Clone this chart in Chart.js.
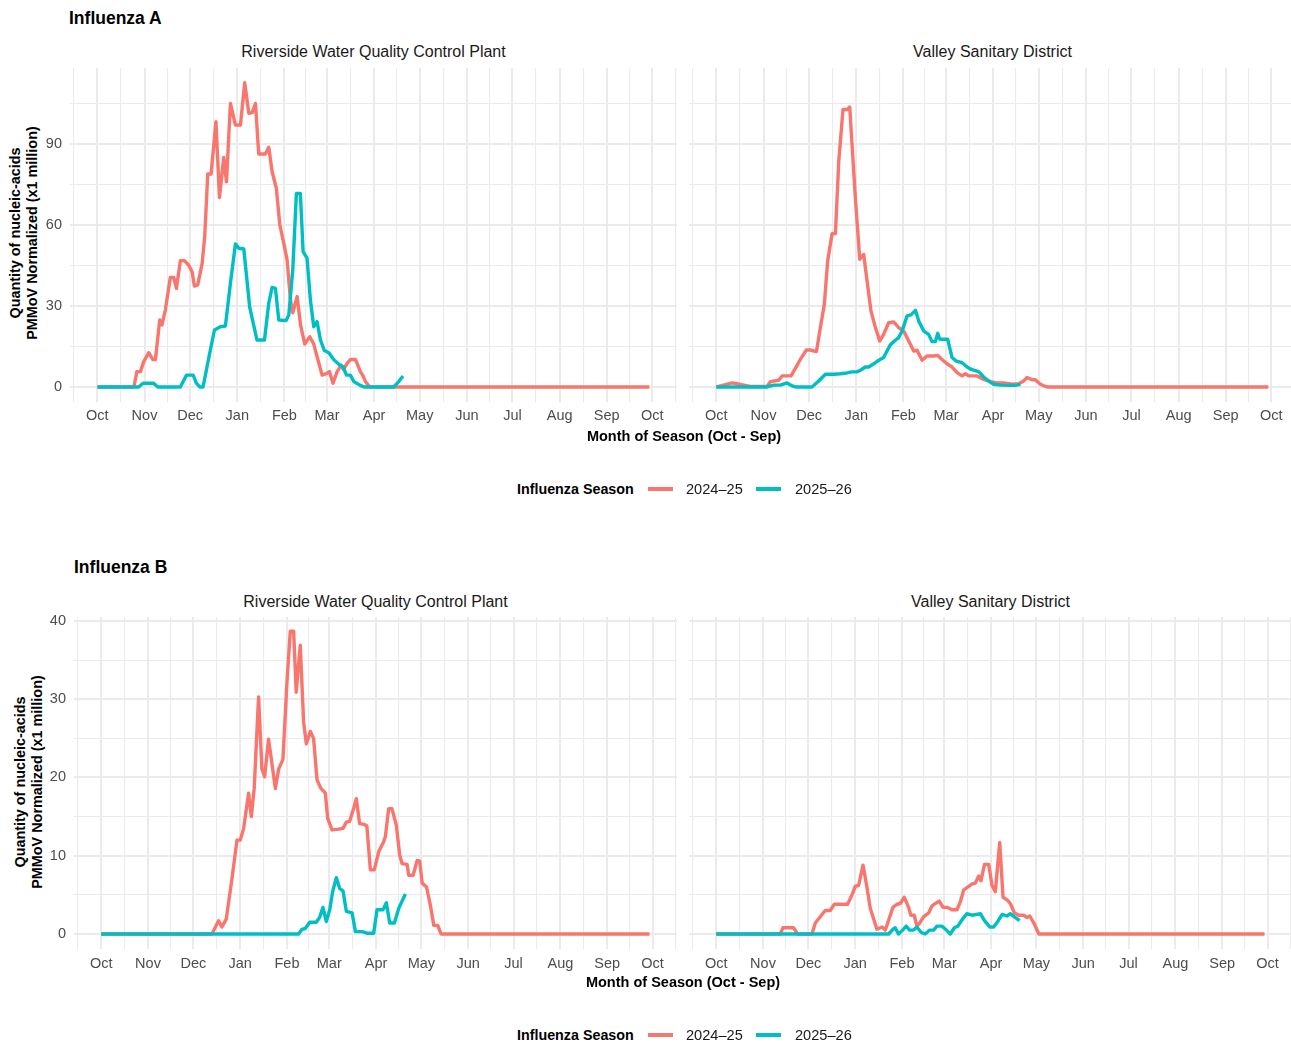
<!DOCTYPE html>
<html>
<head>
<meta charset="utf-8">
<title>Influenza A / B wastewater</title>
<script src="https://cdn.jsdelivr.net/npm/chart.js@4.4.1/dist/chart.umd.min.js"></script>
<style>
    html, body { margin: 0; padding: 0; overflow: hidden; background: #fff; }
    body { position: relative; width: 1291px; height: 1044px; font-family: "Liberation Sans", Arial, sans-serif; }
    .abs { position: absolute; white-space: nowrap; }
    .panel { position: absolute; }
    .title { font-weight: bold; font-size: 17.5px; color: #000; transform: translateY(-50%); }
    .strip { font-size: 16px; color: #1a1a1a; transform: translate(-50%, -50%); }
    .ytitle { font-weight: bold; font-size: 14.4px; line-height: 17px; text-align: center; color: #000; transform: translate(-50%, -50%) rotate(-90deg); }
    .xtitle { font-weight: bold; font-size: 14.5px; color: #000; transform: translate(-50%, -50%); }
    .leg-title { font-weight: bold; font-size: 14.3px; color: #000; transform: translateY(-50%); }
    .leg-label { font-size: 14.6px; color: #1a1a1a; transform: translateY(-50%); }
    .leg-key { height: 4px; transform: translateY(-50%); }
</style>
</head>
<body>

<script>
// Month axis (days since Oct 1) and labels
const monthDays = [0, 31, 61, 92, 123, 151, 182, 212, 243, 273, 304, 335, 365];
const monthLabels = ['Oct', 'Nov', 'Dec', 'Jan', 'Feb', 'Mar', 'Apr', 'May', 'Jun', 'Jul', 'Aug', 'Sep', 'Oct'];

// Y tick labels for each row
const yTicksA = [0, 30, 60, 90];
const yTicksB = [0, 10, 20, 30, 40];

const seasons = ['2024–25', '2025–26'];
const sites = ['Riverside Water Quality Control Plant', 'Valley Sanitary District'];

// Influenza A - Riverside  [day, value]
const fluARiverside2425 = [[0,0],[24,0],[26,5.7],[28.3,5.7],[30.5,9.4],[33.8,12.7],[36.4,10.2],[38.2,10.2],[41,24.8],[42.5,23],[44.7,28.5],[48,40.6],[50.2,40.6],[52,36.5],[54.6,46.8],[57.2,46.8],[60,45.2],[62.3,42.7],[63.8,37.4],[66,37.8],[68.9,45.8],[70.6,55.7],[72.6,78.9],[74.8,78.9],[78,98.3],[80.3,70.2],[83.1,85],[84.9,76],[87.5,105],[90.8,97],[94.1,97],[96.9,112.7],[99.6,101.4],[101.8,101.6],[104,105],[106.1,86.3],[110.5,86.3],[112.7,88.8],[114.9,79.8],[117.7,73.6],[120,60],[122.6,53.2],[124.8,47],[127,32.2],[128.5,27.5],[131.4,33.5],[133.6,23],[136.4,15.9],[139.7,18.6],[142.3,15.9],[144.5,11.2],[147.8,4.4],[151.1,5.1],[152.6,5.7],[155,1.4],[157.7,5.7],[160.3,8.1],[161.8,6.5],[164,8.5],[166.4,10.2],[169.7,10.2],[173,5.7],[174.8,4],[176.3,2],[179.2,0],[363,0]];
const fluARiverside2526 = [[0,0],[27.2,0],[30,1.4],[37,1.4],[39.7,0],[54.6,0],[58.6,4.4],[63,4.4],[65.1,1.4],[67.3,0],[69.5,0],[73.2,10.6],[77,21.1],[80.9,22.3],[84.2,22.6],[87.5,38.4],[90.8,53],[93,51.4],[96.3,51.1],[100.2,29.5],[105,17.4],[109.9,17.4],[112.7,31],[114.9,36.9],[117.1,36.5],[119.3,24.8],[124.1,24.6],[125.9,26.7],[128.5,43.3],[130.9,71.7],[133.5,71.7],[135.3,50.1],[137.9,47.7],[140.1,32.2],[142.3,22.3],[144.5,24.2],[146.7,17.4],[149.3,13.5],[152.2,12.7],[155.4,10.2],[159.4,8.1],[161.6,7.5],[163.8,4.4],[166.4,4.4],[168.6,2],[172.6,0.7],[175.2,0],[194.9,0],[198.2,2],[201,4.1]];

// Influenza A - Valley
const fluAValley2425 = [[0,0],[4.8,0.7],[10.3,1.5],[13.6,1.2],[18,0.7],[22.4,0.2],[33.3,0.2],[35.5,2],[41,2.5],[43.2,4.1],[49.1,4.1],[52,6.9],[55.2,10.2],[59.2,13.7],[61.8,13.7],[65.8,13.1],[68.4,22],[71,30.6],[73.2,46.7],[76.1,56.8],[78.3,56.8],[80.5,83.7],[83.3,102.8],[85.9,102.8],[87.7,103.7],[89.9,83.7],[91.4,70.1],[94.3,47.3],[96.9,49.1],[99.1,39.3],[101.7,28.1],[104.6,22],[107.4,17],[110,19.5],[113.3,23.8],[116.6,24.1],[119.9,22],[123.2,20.7],[126.5,17],[129.8,13.3],[132,13.6],[135.3,9.9],[138.5,11.5],[142.9,11.5],[145.6,11.7],[148.4,10.2],[151.7,8.6],[155,7.4],[158.3,5.3],[161.6,4.1],[163.8,4.9],[165.9,4.1],[171.4,4.1],[175.8,2.8],[180.2,2],[184.6,1.5],[189,1.5],[194.4,1],[198.8,1.2],[202.1,2.2],[204.3,3.5],[207.6,2.7],[209.8,2.7],[213.1,1],[216.4,0.2],[218,0],[363,0]];
const fluAValley2526 = [[0,0],[33,0],[37.7,0.7],[42.1,0.7],[46.5,1.5],[49.8,0.4],[52,0],[62.9,0],[67.3,2.2],[71.7,4.7],[77.2,4.7],[81.5,4.9],[85.9,5.2],[89.2,5.6],[92.5,5.6],[94.7,6.2],[98,7.4],[100.2,7.4],[103.5,8.6],[106.8,9.9],[110,10.9],[112.2,13.3],[114.4,15.6],[117.7,17.3],[119.9,18.3],[122.1,20.7],[125.4,26.3],[128,26.7],[130.9,28.4],[133.1,24.4],[136.4,20.7],[139.6,19.5],[141.8,16.8],[144,16.8],[145.6,19.9],[146.9,17.7],[152.1,17.7],[155,10.9],[157.8,9.6],[161.6,9],[164.9,7.4],[168.1,6.4],[172.5,5.7],[175.8,3.7],[179.1,2.2],[182.4,1],[186.8,0.7],[192.3,0.6],[196.6,0.6],[199.9,1]];

// Influenza B - Riverside
const fluBRiverside2425 = [[0,0],[73.3,0],[77.7,1.7],[79.9,0.9],[82.8,1.9],[86.6,7.1],[89.9,12],[92.1,12],[94.3,13.5],[97.6,18],[99.4,15],[101.3,18.6],[104.2,30.3],[106.4,21.1],[108.2,20.1],[110.8,24.9],[115.3,18.6],[117.5,21.1],[120.3,22.3],[123,32.2],[125.2,38.7],[127.4,38.7],[129.1,30.9],[131.8,36.9],[134,27.1],[135.8,24.3],[138.5,25.9],[140.6,25],[142.9,19.7],[145.5,18.6],[148.4,18],[149.9,14.8],[152.8,13.3],[157.2,13.4],[160.1,13.5],[162.3,14.3],[164.5,14.4],[167.2,16.1],[168.9,17.3],[171.1,14.1],[174.2,14],[175.9,13.8],[178.2,8.2],[180.8,8.2],[183.7,10.5],[187,11.8],[188.1,12.4],[190.3,16],[192.5,16],[195.4,13.9],[197.6,10.1],[199.2,9],[202.5,8.9],[203.6,7.5],[206.5,7.5],[209.2,9.4],[210.9,9.3],[212.5,6.5],[215.4,6],[217.9,3.7],[220.2,1.1],[222.8,1.1],[225,0],[363,0]];
const fluBRiverside2526 = [[0,0],[130.7,0],[132.9,0.6],[135.1,0.7],[138,1.5],[142.4,1.5],[144.6,2.1],[146.8,3.4],[149,1.6],[151.3,3.1],[153.2,5.4],[155.7,7.2],[157.9,5.8],[160.1,5.5],[162.3,2.9],[166.1,2.7],[168.3,0.3],[172.7,0.3],[176,0.1],[180.4,0.1],[182.6,3.1],[186.6,3.1],[188.8,4],[191,1.4],[194.1,1.4],[197,3.3],[201.4,5.1]];

// Influenza B - Valley
const fluBValley2425 = [[0,0],[42.4,0],[44.2,0.8],[51.2,0.8],[53.9,0],[63.4,0],[65.6,1.4],[68.9,2.2],[72.2,3],[75.5,3],[78.2,3.8],[87,3.8],[89.9,5],[92.1,6.1],[94.3,6.2],[97.2,8.8],[99.8,6],[102,3.3],[106.4,0.6],[109.8,0.9],[112,0.5],[114.2,1.8],[117,3.4],[119.7,3.8],[121.9,3.9],[124.5,4.7],[127.4,3.4],[128.9,2.4],[131.1,2.4],[132.9,1],[134.7,1.4],[137.3,2.2],[140.7,2.7],[142.9,3.6],[145.1,3.9],[147.7,4.2],[150.2,3.4],[153.2,3.4],[156.1,3.1],[159.4,3.1],[161.6,4.1],[163.8,5.6],[167.2,6.1],[169.4,6.4],[171.6,6.5],[173.8,7.4],[175.3,6.8],[177.6,8.9],[180.4,8.9],[182.6,6.2],[184.8,5.4],[187.7,11.7],[189.9,4.7],[193,4.3],[194.7,3.9],[197.4,2.7],[200.3,2.4],[203.6,2.4],[205.8,2.1],[207.6,2.3],[210.3,1.4],[213.6,0],[363,0]];
const fluBValley2526 = [[0,0],[114.2,0],[117,0.6],[118.5,0.8],[120.7,0],[122.9,0.4],[125.8,1],[128,0.5],[130.6,0.5],[132.9,0.9],[135.7,0.2],[138.4,0],[141.3,0.5],[143.9,0.5],[146.2,1],[149.5,1],[152.4,0.5],[155,0],[157.7,0.8],[159.9,1],[162.7,1.8],[166,2.6],[169.4,2.4],[174.9,2.6],[177.6,1.7],[181.1,0.9],[183.7,0.9],[186.4,1.6],[189.3,2.5],[192.5,2.3],[194.7,2.6],[197.4,2.2],[200.9,1.7]];

const RED = '#F8766D';
const TEAL = '#00BFC4';
const GRID = '#EBEBEB';
const FONT = '"Liberation Sans", Arial, sans-serif';

// x minor breaks sit halfway between months (plus one either side)
const xMinor = [-15.5].concat(monthDays.slice(1).map((d, i) => (d + monthDays[i]) / 2), [380.5]);
const xTicks = monthDays.concat(xMinor).sort((a, b) => a - b);

function yTickList(major, max) {
    const step = major[1] - major[0];
    const minor = major.map(v => v + step / 2).filter(v => v < max);
    return major.concat(minor).sort((a, b) => a - b);
}

function addText(cls, text, left, top) {
    const div = document.createElement('div');
    div.className = 'abs ' + cls;
    div.style.left = left + 'px';
    div.style.top = top + 'px';
    div.innerHTML = text;
    document.body.appendChild(div);
    return div;
}

function addLegend(y) {
    addText('leg-title', 'Influenza Season', 517, y);
    const k1 = addText('leg-key', '', 648, y); k1.style.width = '25px'; k1.style.background = RED;
    addText('leg-label', seasons[0], 686, y);
    const k2 = addText('leg-key', '', 756, y); k2.style.width = '25px'; k2.style.background = TEAL;
    addText('leg-label', seasons[1], 795, y);
}

// box = chart area in page px, pad = room for axis labels around it
function makePanel(box, padL, yMajor, yMin, yMax, red, teal, xPad) {
    const padT = 24, padR = 6, padB = 40;
    const holder = document.createElement('div');
    holder.className = 'panel';
    holder.style.left = (box.left - padL) + 'px';
    holder.style.top = (box.top - padT) + 'px';
    holder.style.width = (padL + box.width + padR) + 'px';
    holder.style.height = (padT + box.height + padB) + 'px';
    const canvas = document.createElement('canvas');
    holder.appendChild(canvas);
    document.body.appendChild(holder);

    const yTicks = yTickList(yMajor, yMax);
    const lineStyle = { pointRadius: 0, borderWidth: 3.4, tension: 0, borderJoinStyle: 'round', borderCapStyle: 'butt' };

    return new Chart(canvas, {
        type: 'line',
        data: {
            datasets: [
                Object.assign({ label: seasons[0], data: red.map(p => ({ x: p[0], y: p[1] })), borderColor: RED, order: 2 }, lineStyle),
                Object.assign({ label: seasons[1], data: teal.map(p => ({ x: p[0], y: p[1] })), borderColor: TEAL, order: 1 }, lineStyle)
            ]
        },
        options: {
            responsive: true,
            maintainAspectRatio: false,
            animation: false,
            events: [],
            layout: { padding: { top: padT, right: padR, left: 0, bottom: 0 } },
            plugins: { legend: { display: false }, tooltip: { enabled: false } },
            scales: {
                x: {
                    type: 'linear',
                    min: -18,
                    max: 381.2,
                    afterBuildTicks: s => { s.ticks = xTicks.map(v => ({ value: v })); },
                    afterFit: s => { s.height = padB; },
                    grid: {
                        color: GRID,
                        drawTicks: false,
                        lineWidth: ctx => (ctx.tick && monthDays.includes(ctx.tick.value)) ? 2 : 1.1
                    },
                    border: { display: false },
                    ticks: {
                        autoSkip: false,
                        maxRotation: 0,
                        minRotation: 0,
                        padding: xPad,
                        color: '#4D4D4D',
                        font: { family: FONT, size: 14.5 },
                        callback: v => {
                            const i = monthDays.indexOf(v);
                            return i >= 0 ? monthLabels[i] : '';
                        }
                    }
                },
                y: {
                    type: 'linear',
                    min: yMin,
                    max: yMax,
                    afterBuildTicks: s => { s.ticks = yTicks.map(v => ({ value: v })); },
                    afterFit: s => { s.width = padL; },
                    grid: {
                        color: GRID,
                        drawTicks: false,
                        lineWidth: ctx => (ctx.tick && yMajor.includes(ctx.tick.value)) ? 2 : 1.1
                    },
                    border: { display: false },
                    ticks: {
                        display: padL > 20,
                        padding: 8,
                        color: '#4D4D4D',
                        font: { family: FONT, size: 14.5 },
                        callback: v => yMajor.includes(v) ? String(v) : ''
                    }
                }
            }
        }
    });
}

// ---- Influenza A ----
addText('title', 'Influenza A', 69, 18);
addText('strip', sites[0], 373.5, 52);
addText('strip', sites[1], 992.5, 52);
addText('ytitle', 'Quantity of nucleic-acids<br>PMMoV Normalized (x1 million)', 23.5, 233);
makePanel({ left: 70, top: 68, width: 607, height: 334 }, 60, yTicksA, -5.56, 118.15, fluARiverside2425, fluARiverside2526, 5);
makePanel({ left: 689, top: 68, width: 607, height: 334 }, 10, yTicksA, -5.56, 118.15, fluAValley2425, fluAValley2526, 5);
addText('xtitle', 'Month of Season (Oct - Sep)', 684, 436);
addLegend(489);

// ---- Influenza B ----
addText('title', 'Influenza B', 74, 567);
addText('strip', sites[0], 375.5, 602);
addText('strip', sites[1], 990.5, 602);
addText('ytitle', 'Quantity of nucleic-acids<br>PMMoV Normalized (x1 million)', 29, 782);
makePanel({ left: 74, top: 617, width: 603, height: 332 }, 60, yTicksB, -1.917, 40.51, fluBRiverside2425, fluBRiverside2526, 6);
makePanel({ left: 689, top: 617, width: 603, height: 332 }, 10, yTicksB, -1.917, 40.51, fluBValley2425, fluBValley2526, 6);
addText('xtitle', 'Month of Season (Oct - Sep)', 683, 982);
addLegend(1035);
</script>
</body>
</html>
